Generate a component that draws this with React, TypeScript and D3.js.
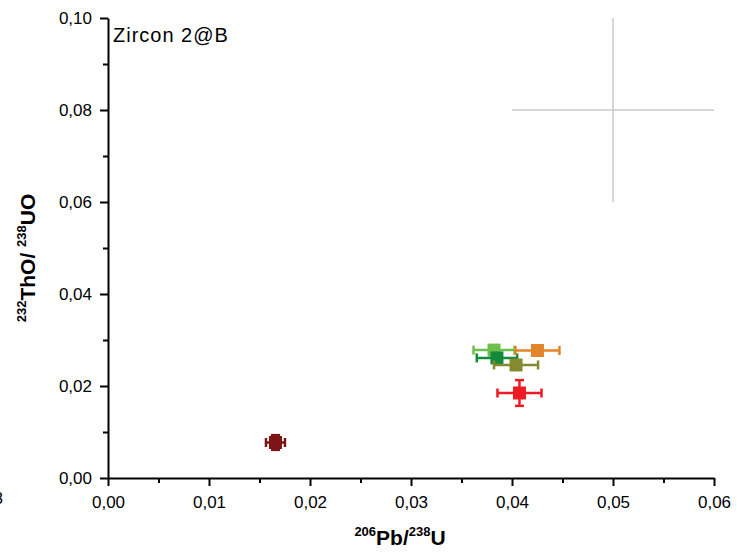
import React, { useEffect, useRef } from "react";
import * as d3 from "d3";

const W = 737;
const H = 553;

const labels = ["light green", "dark green", "olive", "orange", "red", "dark red"];
const xValues = [0.03822, 0.03851, 0.0404, 0.04252, 0.04074, 0.01658];
const yValues = [0.0278, 0.0261, 0.02457, 0.02772, 0.01848, 0.00772];
const xErrors = [0.00203, 0.002, 0.00218, 0.00218, 0.00218, 0.00094];
const yErrors = [0.0007, 0.0009, 0.0009, 0.0007, 0.0028, 0.0016];
const colors = ["#6cc04a", "#128a3c", "#838a30", "#e2852a", "#ed1c24", "#7d1416"];

const crossX = [0.05];
const crossY = [0.08];
const crossXErr = [0.01];
const crossYErr = [0.02];

const xTicks = [0, 0.01, 0.02, 0.03, 0.04, 0.05, 0.06];
const yTicks = [0, 0.02, 0.04, 0.06, 0.08, 0.1];
const xMinor = [0.005, 0.015, 0.025, 0.035, 0.045, 0.055];
const yMinor = [0.01, 0.03, 0.05, 0.07, 0.09];

const fmt = (v: number) => d3.format(".2f")(v).replace(".", ",");

export default function App() {
  const ref = useRef<SVGSVGElement>(null);
  const x = d3.scaleLinear().domain([0, 0.06]).range([108, 714]);
  const y = d3.scaleLinear().domain([0, 0.1]).range([478, 18]);

  useEffect(() => {
    const svg = d3.select(ref.current);
    const gx = svg.select<SVGGElement>("g.xaxis");
    const gy = svg.select<SVGGElement>("g.yaxis");
    gx.selectAll("*").remove();
    gy.selectAll("*").remove();

    gx.call(
      d3.axisBottom(x).tickValues(xMinor).tickSize(5).tickFormat(() => "")
    );
    gx.call((g) => g.select(".domain").remove());
    const gx2 = gx.append("g");
    gx2.call(
      d3.axisBottom(x).tickValues(xTicks).tickSize(8).tickSizeOuter(0).tickPadding(10).tickFormat((d) => fmt(d as number))
    );

    gy.call(
      d3.axisLeft(y).tickValues(yMinor).tickSize(5).tickFormat(() => "")
    );
    gy.call((g) => g.select(".domain").remove());
    const gy2 = gy.append("g");
    gy2.call(
      d3.axisLeft(y).tickValues(yTicks).tickSize(8).tickSizeOuter(0).tickPadding(8).tickFormat((d) => fmt(d as number))
    );

    svg.selectAll(".xaxis line, .yaxis line, .xaxis path, .yaxis path")
      .attr("stroke", "#000")
      .attr("stroke-width", 2);
    svg.selectAll(".xaxis text, .yaxis text")
      .attr("font-family", "Liberation Sans, Arial, sans-serif")
      .attr("font-size", 17)
      .attr("fill", "#000");
  }, []);

  const cap = 4.5;
  const half = 6.5;

  return (
    <svg
      ref={ref}
      width={W}
      height={H}
      style={{ position: "absolute", left: 0, top: 0, background: "#fff" }}
    >
      <rect x={0} y={0} width={W} height={H} fill="#fff" />
      {crossX.map((cx, i) => (
        <g key={"c" + i} stroke="#c8c8c8" strokeWidth={1.5}>
          <line x1={x(cx - crossXErr[i])} x2={x(cx + crossXErr[i])} y1={y(crossY[i])} y2={y(crossY[i])} />
          <line x1={x(cx)} x2={x(cx)} y1={y(crossY[i] - crossYErr[i])} y2={y(crossY[i] + crossYErr[i])} />
        </g>
      ))}
      <g className="xaxis" transform="translate(0,478)" />
      <g className="yaxis" transform="translate(108,0)" />
      {xValues.map((xv, i) => {
        const cx = x(xv);
        const cy = y(yValues[i]);
        const x0 = x(xv - xErrors[i]);
        const x1 = x(xv + xErrors[i]);
        const y0 = y(yValues[i] - yErrors[i]);
        const y1 = y(yValues[i] + yErrors[i]);
        return (
          <g key={labels[i]} stroke={colors[i]} strokeWidth={2.5} fill={colors[i]}>
            <line x1={x0} x2={x1} y1={cy} y2={cy} />
            <line x1={x0} x2={x0} y1={cy - cap} y2={cy + cap} />
            <line x1={x1} x2={x1} y1={cy - cap} y2={cy + cap} />
            <line x1={cx} x2={cx} y1={y0} y2={y1} />
            <line x1={cx - cap} x2={cx + cap} y1={y0} y2={y0} />
            <line x1={cx - cap} x2={cx + cap} y1={y1} y2={y1} />
            <rect x={cx - half} y={cy - half} width={half * 2} height={half * 2} stroke="none" />
          </g>
        );
      })}
      <text
        x={113}
        y={42}
        fontFamily="Liberation Sans, Arial, sans-serif"
        fontSize={20}
        letterSpacing={1}
        fill="#000"
      >
        Zircon 2@B
      </text>
      <text
        x={400}
        y={545}
        textAnchor="middle"
        fontFamily="Liberation Sans, Arial, sans-serif"
        fontWeight="bold"
        fontSize={21}
        fill="#000"
      >
        <tspan fontSize={13} dy={-9}>206</tspan>
        <tspan dy={9}>Pb/</tspan>
        <tspan fontSize={13} dy={-9}>238</tspan>
        <tspan dy={9}>U</tspan>
      </text>
      <text
        transform="translate(35,258) rotate(-90)"
        textAnchor="middle"
        fontFamily="Liberation Sans, Arial, sans-serif"
        fontWeight="bold"
        fontSize={21}
        fill="#000"
      >
        <tspan fontSize={13} dy={-9}>232</tspan>
        <tspan dy={9}>ThO/ </tspan>
        <tspan fontSize={13} dy={-9}>238</tspan>
        <tspan dy={9}>UO</tspan>
      </text>
      <text
        x={3}
        y={504}
        textAnchor="end"
        fontFamily="Liberation Sans, Arial, sans-serif"
        fontSize={17}
        fill="#000"
      >
        8
      </text>
    </svg>
  );
}
